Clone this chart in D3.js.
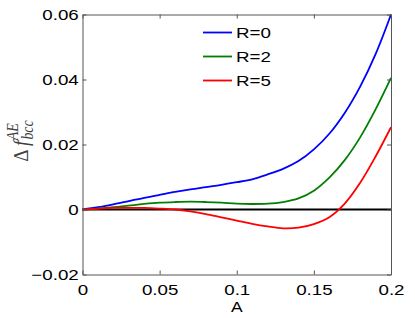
<!DOCTYPE html>
<html>
<head>
<meta charset="utf-8"/>
<script src="https://cdn.jsdelivr.net/npm/d3@7/dist/d3.min.js"></script>
<style>
  html, body { margin:0; padding:0; background:#fff; overflow:hidden; }
  svg { display:block; font-family:"Liberation Sans", Arial, sans-serif; }
</style>
</head>
<body>
<svg width="415" height="318"></svg>
<script>
// data
const aVals  = [0, .01, .02, .03, .04, .05, .06, .07, .08, .09, .10, .11, .12, .13, .14, .15, .16, .17, .18, .19, .20];
const r0Vals = [0, .0007, .0016, .0026, .0036, .0045, .0054, .0062, .0069, .0076, .0084, .0093, .0108, .0125, .0149, .0185, .0233, .0297, .0378, .0478, .0600];
const r2Vals = [0, .0003, .0007, .0012, .0017, .0021, .0023, .0024, .0023, .0021, .0018, .0017, .0018, .0023, .0034, .0058, .0098, .0152, .0222, .0308, .0405];
const r5Vals = [0, .0003, .0005, .0005, .0005, .0003, 0, -.0006, -.0014, -.0024, -.0034, -.0044, -.0052, -.0058, -.0056, -.0045, -.0024, .0018, .0082, .0163, .0253];
const seriesNames = ["R=0", "R=2", "R=5"];
const seriesColors = ["#0000ff", "#008000", "#ff0000"];
const xTicks = [0, 0.05, 0.1, 0.15, 0.2];
const yTicks = [-0.02, 0, 0.02, 0.04, 0.06];

const svg = d3.select("svg");
const m = {l: 82.5, r: 391, t: 14.5, b: 274.5};
const x = d3.scaleLinear().domain([0, 0.2]).range([m.l, m.r]);
const y = d3.scaleLinear().domain([-0.02, 0.06]).range([m.b, m.t]);
const sx = 1.25; // glyphs in the original are drawn wide

const fmt = d => d === 0 ? "0" : String(d).replace("-", "\u2212");

// zero line
svg.append("line")
  .attr("x1", x(0)).attr("x2", x(0.2))
  .attr("y1", y(0)).attr("y2", y(0))
  .attr("stroke", "#000").attr("stroke-width", 2);

// curves
const line = d3.line().x((d, i) => x(aVals[i])).y(d => y(d)).curve(d3.curveCatmullRom.alpha(0.5));
[r0Vals, r2Vals, r5Vals].forEach((vals, k) => {
  svg.append("path").attr("d", line(vals))
    .attr("fill", "none").attr("stroke", seriesColors[k]).attr("stroke-width", 1.8);
});

// axes (mirrored, ticks inward)
const axColor = "#555";
const gB = svg.append("g").attr("transform", `translate(0,${m.b})`)
  .call(d3.axisBottom(x).tickValues(xTicks).tickSizeInner(-4).tickSizeOuter(0).tickPadding(10).tickFormat(fmt));
const gT = svg.append("g").attr("transform", `translate(0,${m.t})`)
  .call(d3.axisTop(x).tickValues(xTicks).tickSizeInner(-4).tickSizeOuter(0).tickFormat(""));
const gL = svg.append("g").attr("transform", `translate(${m.l},0)`)
  .call(d3.axisLeft(y).tickValues(yTicks).tickSizeInner(-4).tickSizeOuter(0).tickPadding(3).tickFormat(fmt));
const gR = svg.append("g").attr("transform", `translate(${m.r},0)`)
  .call(d3.axisRight(y).tickValues(yTicks).tickSizeInner(-4).tickSizeOuter(0).tickFormat(""));
[gB, gT, gL, gR].forEach(g => {
  g.select(".domain").attr("stroke", axColor);
  g.selectAll(".tick line").attr("stroke", axColor);
  g.selectAll("text").attr("fill", "#000").style("font-size", "15px")
    .style("font-family", "'Liberation Sans', Arial, sans-serif")
    .attr("transform", `scale(${sx},1)`);
});
gB.selectAll("text").attr("dy", "0.71em");

// axis labels
svg.append("text").attr("transform", `translate(${(m.l + m.r) / 2},311.5) scale(${sx},1)`)
  .attr("text-anchor", "middle").style("font-size", "14px").text("A");

const yl = svg.append("text")
  .attr("transform", "translate(28,141) scale(1.15,1) rotate(-90)")
  .attr("text-anchor", "middle").attr("fill", "#404040")
  .style("font-family", "'Liberation Serif', 'DejaVu Serif', serif").style("font-size", "19px");
yl.append("tspan").text("\u0394 ");
yl.append("tspan").style("font-style", "italic").text("f");
yl.append("tspan").style("font-style", "italic").style("font-size", "14px").attr("dx", 1).attr("dy", 4).text("bcc");
yl.append("tspan").style("font-style", "italic").style("font-size", "14px").attr("dx", -20).attr("dy", -13).text("AE");

// legend
const leg = svg.append("g");
seriesNames.forEach((n, k) => {
  const ly = 32.5 + k * 24;
  leg.append("line").attr("x1", 203).attr("x2", 232).attr("y1", ly).attr("y2", ly)
    .attr("stroke", seriesColors[k]).attr("stroke-width", 1.8);
  leg.append("text").attr("transform", `translate(236,${ly}) scale(${sx},1)`).attr("dy", "0.35em")
    .style("font-size", "15px").text(n);
});
</script>
</body>
</html>
